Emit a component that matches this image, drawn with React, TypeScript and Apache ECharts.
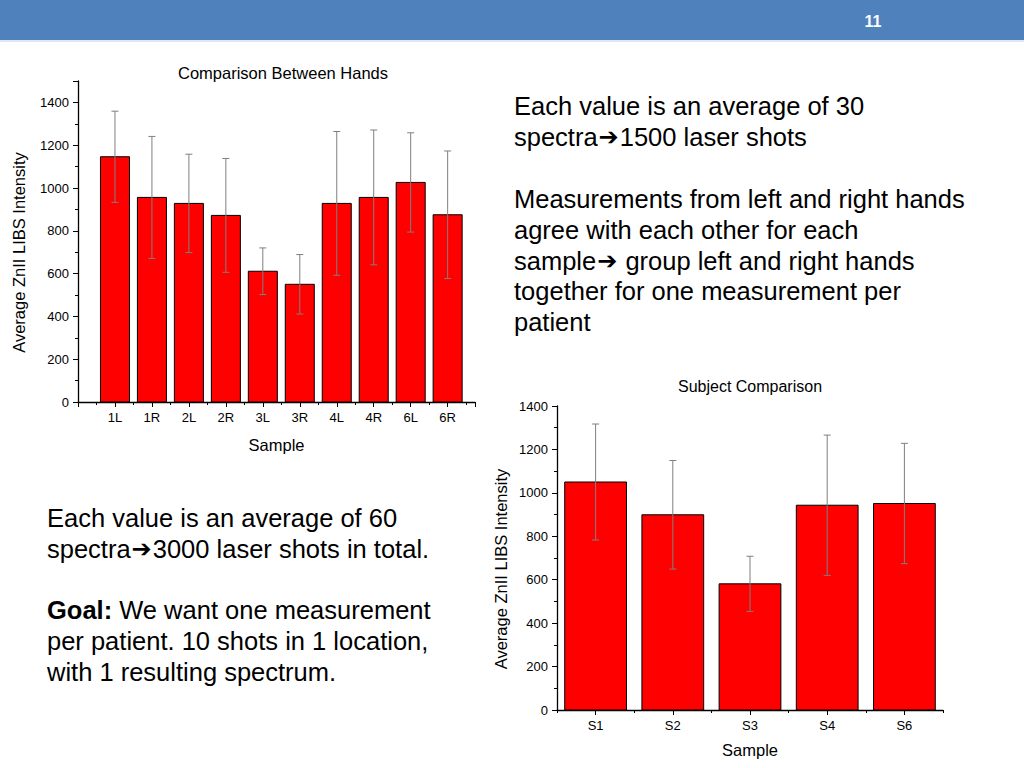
import React, { useEffect, useRef } from "react";
import * as echarts from "echarts";

// ---- Data ----
const handCategories = ["1L", "1R", "2L", "2R", "3L", "3R", "4L", "4R", "6L", "6R"];
const handValues = [1146, 956, 928, 872, 611, 550, 928, 956, 1026, 875];
const handErrors = [213, 285, 230, 266, 109, 139, 336, 315, 232, 298];

const subjectCategories = ["S1", "S2", "S3", "S4", "S6"];
const subjectValues = [1050, 899, 581, 943, 951];
const subjectErrors = [267, 250, 127, 323, 277];

const chart1Title = "Comparison Between Hands";
const chart2Title = "Subject Comparison";
const yName = "Average ZnII LIBS Intensity";
const xName = "Sample";

const rightText = [
  "Each value is an average of 30",
  "spectra{a|➔}1500 laser shots",
  "",
  "Measurements from left and right hands",
  "agree with each other for each",
  "sample{a|➔} group left and right hands",
  "together for one measurement per",
  "patient",
];
const leftText = [
  "Each value is an average of 60",
  "spectra{a|➔}3000 laser shots in total.",
  "",
  "{b|Goal:} We want one measurement",
  "per patient. 10 shots in 1 location,",
  "with 1 resulting spectrum.",
];

const FONT = "Liberation Sans, Arial, sans-serif";

function barRender(widthRatio: number) {
  return (params: any, api: any) => {
    const x = api.value(0);
    const y = api.value(1);
    const e = api.value(2);
    const base = api.coord([x, 0]);
    const top = api.coord([x, y]);
    const w = api.size([1, 0])[0] * widthRatio;
    const eTop = api.coord([x, y + e]);
    const eBot = api.coord([x, y - e]);
    const cap = 3.5;
    const errStyle = { stroke: "#7f7f7f", lineWidth: 1 };
    return {
      type: "group",
      children: [
        {
          type: "rect",
          shape: { x: base[0] - w / 2, y: top[1], width: w, height: base[1] - top[1] },
          style: { fill: "#ff0000", stroke: "#000000", lineWidth: 1 },
        },
        { type: "line", shape: { x1: base[0], y1: eTop[1], x2: base[0], y2: eBot[1] }, style: errStyle },
        { type: "line", shape: { x1: base[0] - cap, y1: eTop[1], x2: base[0] + cap, y2: eTop[1] }, style: errStyle },
        { type: "line", shape: { x1: base[0] - cap, y1: eBot[1], x2: base[0] + cap, y2: eBot[1] }, style: errStyle },
      ],
    };
  };
}

const axisLineStyle = { color: "#000", width: 1.3 };
const tickLabel = { color: "#000", fontSize: 13, fontFamily: FONT };
const nameStyle = { color: "#000", fontSize: 16.5, fontFamily: FONT };
const yNameStyle = { ...nameStyle, padding: [0, 22, 0, 0] };

export default function App() {
  const ref = useRef<HTMLDivElement>(null);
  useEffect(() => {
    if (!ref.current) return;
    const chart = echarts.init(ref.current, undefined, { renderer: "svg" });

    const textEls: any[] = [];
    const rich = {
      a: { fontSize: 24, fontFamily: "DejaVu Sans", fill: "#000", padding: [0, 1, 0, 1] },
      b: { fontSize: 25.5, fontWeight: "bold", fontFamily: FONT, fill: "#000" },
    };
    rightText.forEach((t, i) => {
      if (!t) return;
      textEls.push({
        type: "text",
        left: 514,
        top: 93 + i * 30.9,
        style: { text: t, fontSize: 25.5, fontFamily: FONT, fill: "#000", rich },
      });
    });
    leftText.forEach((t, i) => {
      if (!t) return;
      textEls.push({
        type: "text",
        left: 47,
        top: 505 + i * 30.7,
        style: { text: t, fontSize: 25.5, fontFamily: FONT, fill: "#000", rich },
      });
    });

    const plainNum = (v: number) => String(v);

    chart.setOption({
      animation: false,
      backgroundColor: "#ffffff",
      title: [
        {
          text: chart1Title,
          left: 278,
          top: 59,
          textAlign: "center",
          textStyle: { fontSize: 16.5, fontWeight: "normal", color: "#000", fontFamily: FONT },
        },
        {
          text: chart2Title,
          left: 745,
          top: 373,
          textAlign: "center",
          textStyle: { fontSize: 16, fontWeight: "normal", color: "#000", fontFamily: FONT },
        },
      ],
      grid: [
        { left: 78, top: 81, width: 397, height: 321 },
        { left: 557, top: 406, width: 386, height: 304 },
      ],
      xAxis: [
        {
          type: "value",
          gridIndex: 0,
          min: 0,
          max: 10.74,
          interval: 1,
          name: xName,
          nameLocation: "middle",
          nameGap: 34,
          nameTextStyle: nameStyle,
          axisLine: { show: true, lineStyle: axisLineStyle },
          axisTick: { show: true, length: 5, lineStyle: { color: "#000" } },
          minorTick: { show: true, splitNumber: 2, length: 3, lineStyle: { color: "#000" } },
          splitLine: { show: false },
          axisLabel: {
            ...tickLabel,
            margin: 9,
            showMaxLabel: false,
            formatter: (v: number) => (Number.isInteger(v) && v >= 1 ? handCategories[v - 1] ?? "" : ""),
          },
        },
        {
          type: "category",
          gridIndex: 1,
          position: "bottom",
          data: subjectCategories,
          name: xName,
          nameLocation: "middle",
          nameGap: 31,
          nameTextStyle: nameStyle,
          axisLine: { show: true, lineStyle: axisLineStyle },
          axisTick: { show: true, alignWithLabel: true, length: 5, lineStyle: { color: "#000" } },
          axisLabel: { ...tickLabel, margin: 9 },
          splitLine: { show: false },
        },
        {
          type: "category",
          gridIndex: 1,
          position: "bottom",
          data: subjectCategories,
          axisLine: { show: false },
          axisTick: { show: true, length: 3, lineStyle: { color: "#000" } },
          axisLabel: { show: false },
          splitLine: { show: false },
        },
      ],
      yAxis: [
        {
          type: "value",
          gridIndex: 0,
          min: 0,
          max: 1500,
          interval: 200,
          name: yName,
          nameLocation: "middle",
          nameGap: 51,
          nameTextStyle: yNameStyle,
          axisLine: { show: true, lineStyle: axisLineStyle },
          axisTick: { show: true, length: 5, lineStyle: { color: "#000" } },
          minorTick: { show: true, splitNumber: 2, length: 3, lineStyle: { color: "#000" } },
          splitLine: { show: false },
          axisLabel: { ...tickLabel, margin: 9, showMaxLabel: false, formatter: plainNum },
        },
        {
          type: "value",
          gridIndex: 1,
          min: 0,
          max: 1400,
          interval: 200,
          name: yName,
          nameLocation: "middle",
          nameGap: 48,
          nameTextStyle: yNameStyle,
          axisLine: { show: true, lineStyle: axisLineStyle },
          axisTick: { show: true, length: 5, lineStyle: { color: "#000" } },
          minorTick: { show: true, splitNumber: 2, length: 3, lineStyle: { color: "#000" } },
          splitLine: { show: false },
          axisLabel: { ...tickLabel, margin: 9, formatter: plainNum },
        },
      ],
      series: [
        {
          type: "custom",
          name: chart1Title,
          xAxisIndex: 0,
          yAxisIndex: 0,
          data: handValues.map((v, i) => [i + 1, v, handErrors[i]]),
          renderItem: barRender(0.785),
          clip: false,
        },
        {
          type: "custom",
          name: chart2Title,
          xAxisIndex: 1,
          yAxisIndex: 1,
          data: subjectValues.map((v, i) => [i, v, subjectErrors[i]]),
          renderItem: barRender(0.8),
          clip: false,
        },
      ],
      graphic: [
        {
          type: "rect",
          left: 0,
          top: 0,
          shape: { width: 1024, height: 40 },
          style: { fill: "#4f81bd" },
        },
        {
          type: "rect",
          left: 0,
          top: 40,
          shape: { width: 1024, height: 2 },
          style: { fill: "#dfe8f2" },
        },
        {
          type: "text",
          x: 873,
          y: 21,
          style: {
            text: "11",
            fill: "#ffffff",
            fontSize: 16,
            fontWeight: "bold",
            fontFamily: FONT,
            align: "center",
            verticalAlign: "middle",
          },
        },
        ...textEls,
      ],
    });
    return () => chart.dispose();
  }, []);
  return (
    <div
      ref={ref}
      style={{ position: "absolute", left: 0, top: 0, width: 1024, height: 768 }}
    />
  );
}
